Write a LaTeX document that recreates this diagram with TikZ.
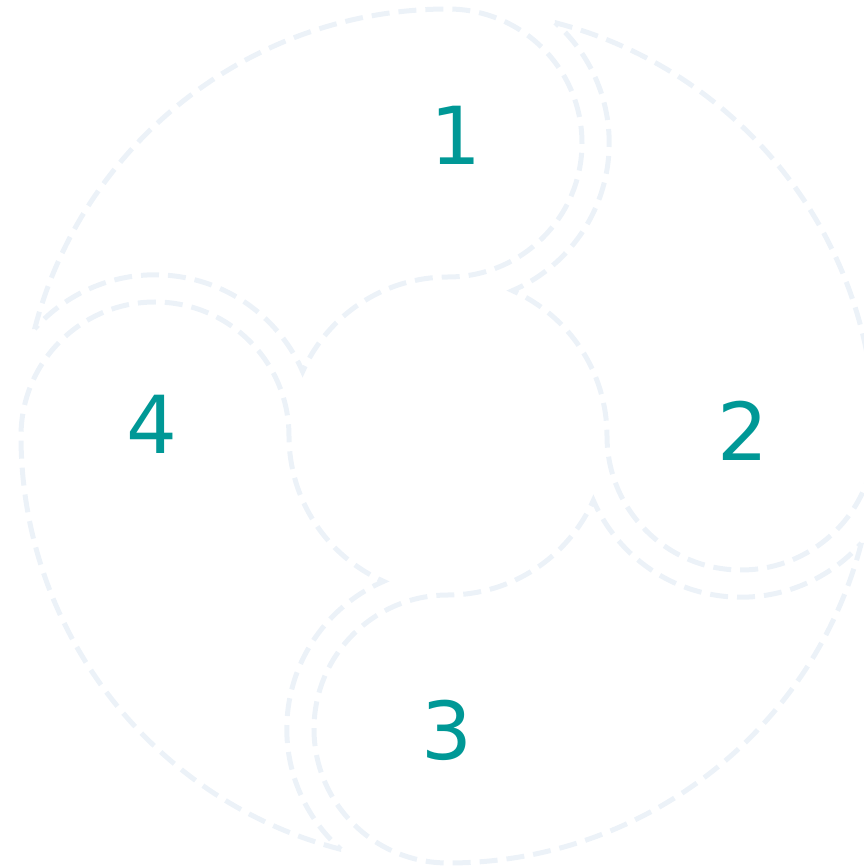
\documentclass[tikz,border=0pt]{standalone}
\usepackage{fontspec}
\setmainfont{DejaVu Sans}
\definecolor{paleline}{RGB}{236,242,248}
\definecolor{tealtext}{RGB}{0,152,150}
\begin{document}
\begin{tikzpicture}[x=1pt,y=1pt,
  segline/.style={draw=paleline,line width=5pt,dash pattern=on 18pt off 9pt},
  numlabel/.style={text=tealtext,font=\fontsize{80}{80}\selectfont,inner sep=0pt}]
\useasboundingbox (-448,-430) rectangle (415,436);
\foreach \k in {0,1,2,3}{
  \begin{scope}[rotate=-90*\k]
    \path[segline] (165.5:427) arc[start angle=165.5,end angle=90,radius=427]
      arc[start angle=90,end angle=-90,radius=134]
      arc[start angle=90,end angle=156.1,radius=159]
      arc[start angle=23.5,end angle=138.4,radius=161] -- cycle;
  \end{scope}
}
\node[numlabel] (n1) at (8,300.5) {1};
\node[numlabel] (n2) at (295,5.5) {2};
\node[numlabel] (n3) at (-1,-294) {3};
\node[numlabel] (n4) at (-296,12) {4};
\end{tikzpicture}
\end{document}
